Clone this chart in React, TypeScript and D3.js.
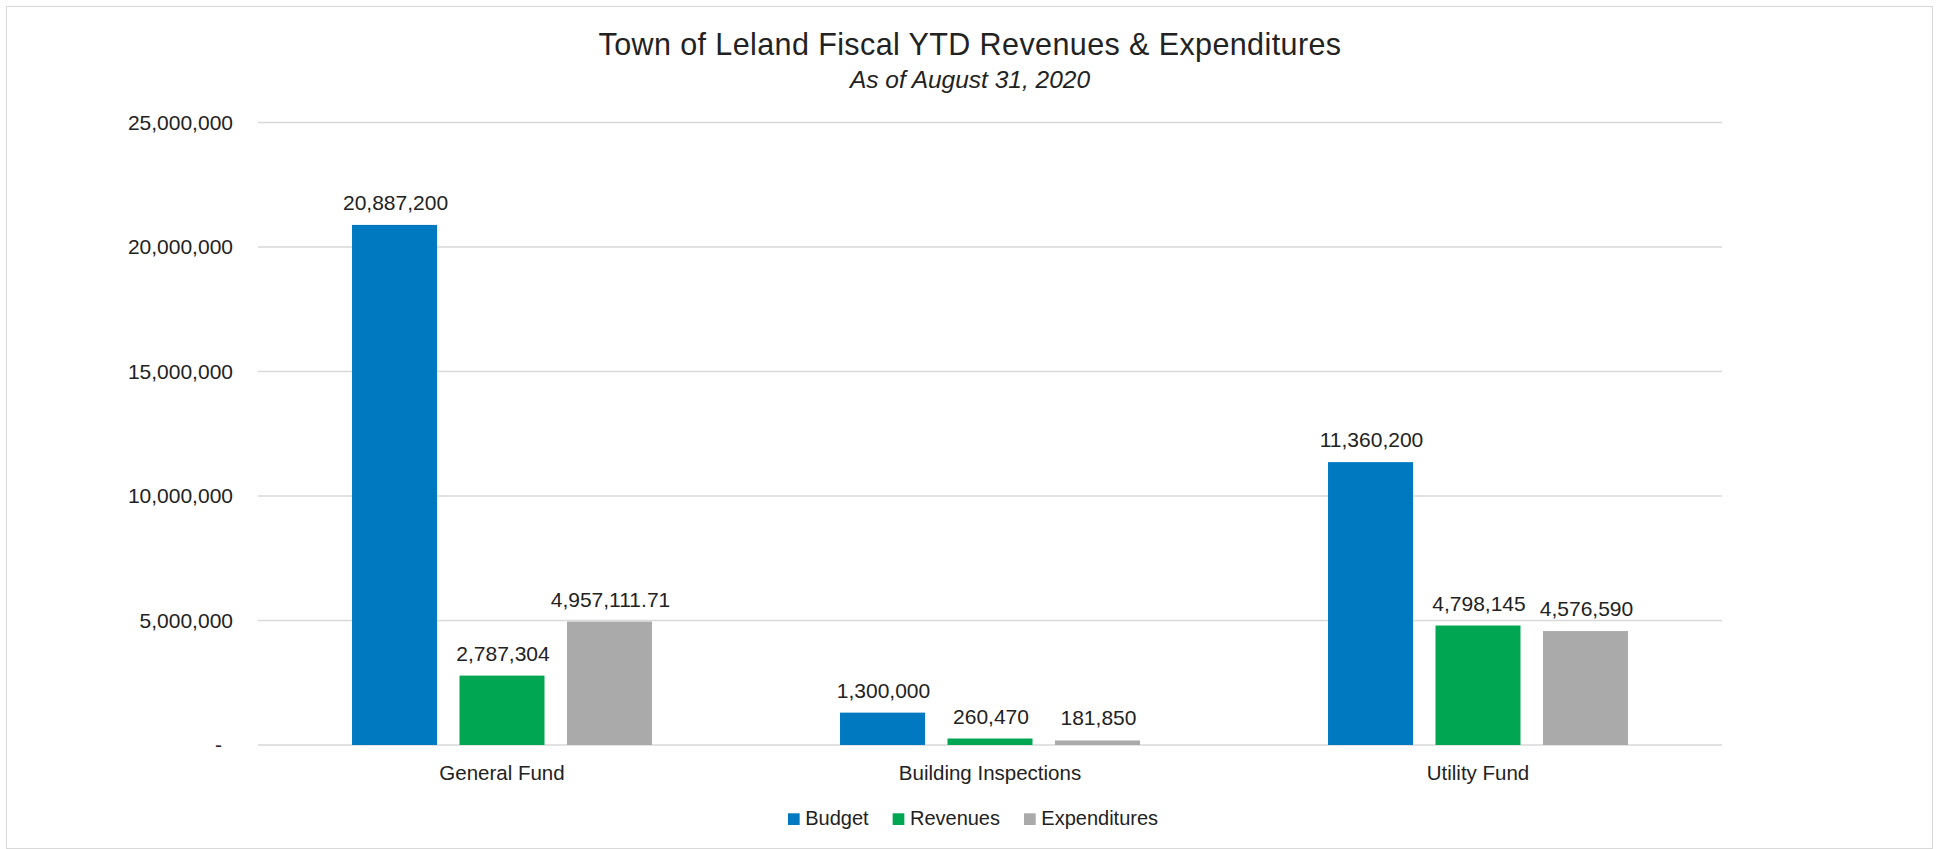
import React, { useMemo } from 'react';
import * as d3 from 'd3';

// ---- Data ----
const categories = ['General Fund', 'Building Inspections', 'Utility Fund'];
const seriesNames = ['Budget', 'Revenues', 'Expenditures'];
const budget = [20887200, 1300000, 11360200];
const revenues = [2787304, 260470, 4798145];
const expenditures = [4957111.71, 181850, 4576590];
const yTicks = [0, 5000000, 10000000, 15000000, 20000000, 25000000];
const seriesColors = ['#0079C1', '#00A651', '#AAAAAA'];
const titleText = 'Town of Leland Fiscal YTD Revenues & Expenditures';
const subtitleText = 'As of August 31, 2020';

const FONT = '"Liberation Sans", Arial, Helvetica, sans-serif';
const TEXT = '#222222';

function measure(text: string, size: number): number {
  const c = document.createElement('canvas');
  const ctx = c.getContext('2d');
  if (!ctx) return text.length * size * 0.55;
  ctx.font = `${size}px "Liberation Sans", Arial, sans-serif`;
  return ctx.measureText(text).width;
}

export default function App() {
  const W = 1939;
  const H = 849;
  const plotLeft = 258;
  const plotRight = 1722;
  const yBottom = 745;
  const yTopPx = 122.5;

  const values = [budget, revenues, expenditures];

  const x0 = d3.scaleBand<string>().domain(categories).range([plotLeft, plotRight]).paddingInner(0).paddingOuter(0);
  const x1 = d3
    .scaleBand<string>()
    .domain(seriesNames)
    .range([0, x0.bandwidth()])
    .paddingInner(0.2093)
    .paddingOuter(0.8747);
  const y = d3.scaleLinear().domain([0, 25000000]).range([yBottom, yTopPx]);

  const fmtInt = d3.format(',');
  const fmtDec = d3.format(',.2f');
  const fmtVal = (v: number) => (Number.isInteger(v) ? fmtInt(v) : fmtDec(v));

  // Legend layout
  const legend = useMemo(() => {
    const sq = 11.7;
    const gap = 5.6;
    const between = 24;
    const widths = seriesNames.map((s) => measure(s, 20));
    const total = widths.reduce((a, w) => a + sq + gap + w, 0) + between * (seriesNames.length - 1);
    let cx = 973 - total / 2;
    return seriesNames.map((s, i) => {
      const item = { name: s, x: cx, color: seriesColors[i], sq, gap };
      cx += sq + gap + widths[i] + between;
      return item;
    });
  }, []);

  return (
    <svg
      width={W}
      height={H}
      style={{ position: 'absolute', left: 0, top: 0, background: '#fff' }}
      fontFamily={FONT}
    >
      <rect x={0} y={0} width={W} height={H} fill="#fff" />
      <rect x={6.5} y={6.5} width={1926} height={842} fill="none" stroke="#d9d9d9" strokeWidth={1} />

      {/* Title */}
      <text
        x={970}
        y={55}
        textAnchor="middle"
        fontSize={30.5}
        fill={TEXT}
        style={{ letterSpacing: '0.4px' }}
      >
        {titleText}
      </text>
      <text
        x={970}
        y={88}
        textAnchor="middle"
        fontSize={24.5}
        fontStyle="italic"
        fill={TEXT}
      >
        {subtitleText}
      </text>

      {/* Gridlines & y labels */}
      {yTicks.map((t) => (
        <g key={t}>
          <line
            x1={plotLeft}
            x2={plotRight}
            y1={y(t)}
            y2={y(t)}
            stroke="#d9d9d9"
            strokeWidth={1.5}
          />
          <text
            x={t === 0 ? 222 : 233}
            y={y(t) + 7}
            textAnchor="end"
            fontSize={21}
            fill={TEXT}
          >
            {t === 0 ? '-' : fmtInt(t)}
          </text>
        </g>
      ))}

      {/* Bars */}
      {categories.map((c, ci) => (
        <g key={c} transform={`translate(${x0(c)},0)`}>
          {seriesNames.map((s, si) => {
            const v = values[si][ci];
            const bx = x1(s) as number;
            const by = y(v);
            return (
              <g key={s}>
                <rect
                  x={bx}
                  y={by}
                  width={x1.bandwidth()}
                  height={yBottom - by}
                  fill={seriesColors[si]}
                />
                <text
                  x={bx + x1.bandwidth() / 2 + 1}
                  y={by - 15}
                  textAnchor="middle"
                  fontSize={21}
                  fill={TEXT}
                >
                  {fmtVal(v)}
                </text>
              </g>
            );
          })}
          <text
            x={x0.bandwidth() / 2}
            y={779.5}
            textAnchor="middle"
            fontSize={20.5}
            fill={TEXT}
          >
            {c}
          </text>
        </g>
      ))}

      {/* Legend */}
      {legend.map((l) => (
        <g key={l.name}>
          <rect x={l.x} y={813.3} width={l.sq} height={l.sq} fill={l.color} />
          <text x={l.x + l.sq + l.gap} y={825} fontSize={20} fill={TEXT}>
            {l.name}
          </text>
        </g>
      ))}
    </svg>
  );
}
